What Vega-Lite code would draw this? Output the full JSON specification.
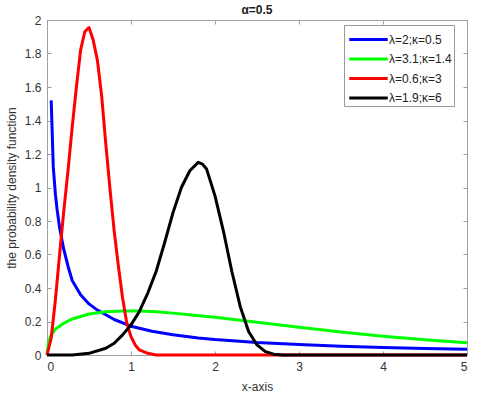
{
  "$schema": "https://vega.github.io/schema/vega-lite/v6.json",
  "autosize": {"type": "none"},
  "width": 420,
  "height": 335,
  "padding": {"left": 47, "top": 20, "right": 13, "bottom": 42},
  "background": "white",
  "config": {
    "font": "Liberation Sans",
    "view": {"stroke": "#a0a0a0", "strokeWidth": 1}
  },
  "title": {"text": "α=0.5", "fontSize": 12, "fontWeight": "bold", "color": "#222", "offset": -3, "anchor": "middle"},
  "data": {"values": [
    {"s": "λ=2;κ=0.5", "x": 0.05, "y": 1.52},
    {"s": "λ=2;κ=0.5", "x": 0.06, "y": 1.36},
    {"s": "λ=2;κ=0.5", "x": 0.075, "y": 1.12},
    {"s": "λ=2;κ=0.5", "x": 0.1, "y": 0.96},
    {"s": "λ=2;κ=0.5", "x": 0.12, "y": 0.87},
    {"s": "λ=2;κ=0.5", "x": 0.15, "y": 0.76},
    {"s": "λ=2;κ=0.5", "x": 0.2, "y": 0.63},
    {"s": "λ=2;κ=0.5", "x": 0.25, "y": 0.53},
    {"s": "λ=2;κ=0.5", "x": 0.3, "y": 0.445},
    {"s": "λ=2;κ=0.5", "x": 0.4, "y": 0.36},
    {"s": "λ=2;κ=0.5", "x": 0.5, "y": 0.305},
    {"s": "λ=2;κ=0.5", "x": 0.6, "y": 0.268},
    {"s": "λ=2;κ=0.5", "x": 0.7, "y": 0.24},
    {"s": "λ=2;κ=0.5", "x": 0.8, "y": 0.212},
    {"s": "λ=2;κ=0.5", "x": 1.0, "y": 0.172},
    {"s": "λ=2;κ=0.5", "x": 1.25, "y": 0.142},
    {"s": "λ=2;κ=0.5", "x": 1.5, "y": 0.121},
    {"s": "λ=2;κ=0.5", "x": 1.8, "y": 0.102},
    {"s": "λ=2;κ=0.5", "x": 2.0, "y": 0.092},
    {"s": "λ=2;κ=0.5", "x": 2.5, "y": 0.074},
    {"s": "λ=2;κ=0.5", "x": 3.0, "y": 0.062},
    {"s": "λ=2;κ=0.5", "x": 3.5, "y": 0.052},
    {"s": "λ=2;κ=0.5", "x": 4.0, "y": 0.045},
    {"s": "λ=2;κ=0.5", "x": 4.5, "y": 0.039},
    {"s": "λ=2;κ=0.5", "x": 5.0, "y": 0.034},
    {"s": "λ=3.1;κ=1.4", "x": 0.0, "y": 0.0},
    {"s": "λ=3.1;κ=1.4", "x": 0.02, "y": 0.08},
    {"s": "λ=3.1;κ=1.4", "x": 0.05, "y": 0.12},
    {"s": "λ=3.1;κ=1.4", "x": 0.1, "y": 0.155},
    {"s": "λ=3.1;κ=1.4", "x": 0.2, "y": 0.19},
    {"s": "λ=3.1;κ=1.4", "x": 0.3, "y": 0.215},
    {"s": "λ=3.1;κ=1.4", "x": 0.5, "y": 0.245},
    {"s": "λ=3.1;κ=1.4", "x": 0.7, "y": 0.258},
    {"s": "λ=3.1;κ=1.4", "x": 0.9, "y": 0.263},
    {"s": "λ=3.1;κ=1.4", "x": 1.1, "y": 0.263},
    {"s": "λ=3.1;κ=1.4", "x": 1.3, "y": 0.258},
    {"s": "λ=3.1;κ=1.4", "x": 1.5, "y": 0.25},
    {"s": "λ=3.1;κ=1.4", "x": 1.75, "y": 0.238},
    {"s": "λ=3.1;κ=1.4", "x": 2.0, "y": 0.225},
    {"s": "λ=3.1;κ=1.4", "x": 2.25, "y": 0.21},
    {"s": "λ=3.1;κ=1.4", "x": 2.5, "y": 0.196},
    {"s": "λ=3.1;κ=1.4", "x": 2.75, "y": 0.181},
    {"s": "λ=3.1;κ=1.4", "x": 3.0, "y": 0.166},
    {"s": "λ=3.1;κ=1.4", "x": 3.5, "y": 0.138},
    {"s": "λ=3.1;κ=1.4", "x": 4.0, "y": 0.112},
    {"s": "λ=3.1;κ=1.4", "x": 4.5, "y": 0.091},
    {"s": "λ=3.1;κ=1.4", "x": 5.0, "y": 0.073},
    {"s": "λ=0.6;κ=3", "x": 0.0, "y": 0.0},
    {"s": "λ=0.6;κ=3", "x": 0.05, "y": 0.1},
    {"s": "λ=0.6;κ=3", "x": 0.1, "y": 0.33},
    {"s": "λ=0.6;κ=3", "x": 0.15, "y": 0.6},
    {"s": "λ=0.6;κ=3", "x": 0.2, "y": 0.86},
    {"s": "λ=0.6;κ=3", "x": 0.25, "y": 1.1},
    {"s": "λ=0.6;κ=3", "x": 0.3, "y": 1.36},
    {"s": "λ=0.6;κ=3", "x": 0.35, "y": 1.6},
    {"s": "λ=0.6;κ=3", "x": 0.4, "y": 1.82},
    {"s": "λ=0.6;κ=3", "x": 0.45, "y": 1.93},
    {"s": "λ=0.6;κ=3", "x": 0.5, "y": 1.955},
    {"s": "λ=0.6;κ=3", "x": 0.55, "y": 1.88},
    {"s": "λ=0.6;κ=3", "x": 0.6, "y": 1.76},
    {"s": "λ=0.6;κ=3", "x": 0.65, "y": 1.55},
    {"s": "λ=0.6;κ=3", "x": 0.7, "y": 1.26},
    {"s": "λ=0.6;κ=3", "x": 0.75, "y": 0.99},
    {"s": "λ=0.6;κ=3", "x": 0.8, "y": 0.74},
    {"s": "λ=0.6;κ=3", "x": 0.85, "y": 0.53},
    {"s": "λ=0.6;κ=3", "x": 0.9, "y": 0.34},
    {"s": "λ=0.6;κ=3", "x": 0.95, "y": 0.19},
    {"s": "λ=0.6;κ=3", "x": 1.0, "y": 0.11},
    {"s": "λ=0.6;κ=3", "x": 1.05, "y": 0.06},
    {"s": "λ=0.6;κ=3", "x": 1.1, "y": 0.03},
    {"s": "λ=0.6;κ=3", "x": 1.2, "y": 0.01},
    {"s": "λ=0.6;κ=3", "x": 1.3, "y": 0.0},
    {"s": "λ=0.6;κ=3", "x": 2.0, "y": 0.0},
    {"s": "λ=0.6;κ=3", "x": 3.0, "y": 0.0},
    {"s": "λ=0.6;κ=3", "x": 4.0, "y": 0.0},
    {"s": "λ=0.6;κ=3", "x": 5.0, "y": 0.0},
    {"s": "λ=1.9;κ=6", "x": 0.0, "y": 0.0},
    {"s": "λ=1.9;κ=6", "x": 0.3, "y": 0.0},
    {"s": "λ=1.9;κ=6", "x": 0.5, "y": 0.01},
    {"s": "λ=1.9;κ=6", "x": 0.7, "y": 0.04},
    {"s": "λ=1.9;κ=6", "x": 0.8, "y": 0.07},
    {"s": "λ=1.9;κ=6", "x": 0.9, "y": 0.12},
    {"s": "λ=1.9;κ=6", "x": 1.0, "y": 0.18},
    {"s": "λ=1.9;κ=6", "x": 1.1, "y": 0.26},
    {"s": "λ=1.9;κ=6", "x": 1.2, "y": 0.37},
    {"s": "λ=1.9;κ=6", "x": 1.3, "y": 0.5},
    {"s": "λ=1.9;κ=6", "x": 1.4, "y": 0.67},
    {"s": "λ=1.9;κ=6", "x": 1.5, "y": 0.85},
    {"s": "λ=1.9;κ=6", "x": 1.6, "y": 1.0},
    {"s": "λ=1.9;κ=6", "x": 1.7, "y": 1.1},
    {"s": "λ=1.9;κ=6", "x": 1.8, "y": 1.15},
    {"s": "λ=1.9;κ=6", "x": 1.85, "y": 1.14},
    {"s": "λ=1.9;κ=6", "x": 1.9, "y": 1.11},
    {"s": "λ=1.9;κ=6", "x": 2.0, "y": 0.95},
    {"s": "λ=1.9;κ=6", "x": 2.1, "y": 0.74},
    {"s": "λ=1.9;κ=6", "x": 2.2, "y": 0.5},
    {"s": "λ=1.9;κ=6", "x": 2.3, "y": 0.29},
    {"s": "λ=1.9;κ=6", "x": 2.4, "y": 0.14},
    {"s": "λ=1.9;κ=6", "x": 2.5, "y": 0.06},
    {"s": "λ=1.9;κ=6", "x": 2.6, "y": 0.02},
    {"s": "λ=1.9;κ=6", "x": 2.7, "y": 0.005},
    {"s": "λ=1.9;κ=6", "x": 2.8, "y": 0.0},
    {"s": "λ=1.9;κ=6", "x": 3.0, "y": 0.0},
    {"s": "λ=1.9;κ=6", "x": 4.0, "y": 0.0},
    {"s": "λ=1.9;κ=6", "x": 5.0, "y": 0.0}
  ]},
  "resolve": {"axis": {"x": "independent", "y": "independent"}},
  "layer": [
    {
      "mark": {"type": "line", "opacity": 0},
      "encoding": {
        "x": {
          "field": "x", "type": "quantitative",
          "scale": {"domain": [0, 5], "nice": false, "zero": false},
          "axis": {"orient": "top", "title": null, "labels": false, "values": [0, 1, 2, 3, 4, 5], "grid": false, "domainColor": "#a0a0a0", "tickColor": "#a0a0a0", "tickSize": -4}
        },
        "y": {
          "field": "y", "type": "quantitative",
          "scale": {"domain": [0, 2], "nice": false},
          "axis": {"orient": "right", "title": null, "labels": false, "values": [0, 0.2, 0.4, 0.6, 0.8, 1, 1.2, 1.4, 1.6, 1.8, 2], "grid": false, "domainColor": "#a0a0a0", "tickColor": "#a0a0a0", "tickSize": -4}
        },
        "detail": {"field": "s", "type": "nominal"},
        "order": {"field": "x", "type": "quantitative"}
      }
    },
    {
      "mark": {"type": "line", "strokeWidth": 3, "strokeJoin": "round"},
      "encoding": {
        "x": {
          "field": "x", "type": "quantitative",
          "scale": {"domain": [0, 5], "nice": false, "zero": false},
          "axis": {"title": "x-axis", "values": [0, 1, 2, 3, 4, 5], "grid": false, "domainColor": "#a0a0a0", "tickColor": "#a0a0a0", "tickSize": -4, "labelPadding": 10, "labelFontSize": 12, "labelColor": "#333", "titleFontSize": 12, "titleFontWeight": "normal", "titleColor": "#333", "titlePadding": 9}
        },
        "y": {
          "field": "y", "type": "quantitative",
          "scale": {"domain": [0, 2], "nice": false},
          "axis": {"title": "the probability density function", "format": "~g", "values": [0, 0.2, 0.4, 0.6, 0.8, 1, 1.2, 1.4, 1.6, 1.8, 2], "grid": false, "domainColor": "#a0a0a0", "tickColor": "#a0a0a0", "tickSize": -4, "labelPadding": 10, "labelFontSize": 12, "labelColor": "#333", "titleFontSize": 12, "titleFontWeight": "normal", "titleColor": "#333", "titlePadding": 6}
        },
        "color": {
          "field": "s", "type": "nominal",
          "scale": {"domain": ["λ=2;κ=0.5", "λ=3.1;κ=1.4", "λ=0.6;κ=3", "λ=1.9;κ=6"], "range": ["#0000ff", "#00ff00", "#ff0000", "#000000"]},
          "legend": {"title": null, "orient": "none", "legendX": 297, "legendY": 5, "symbolType": "M-1.75,0H1.75", "symbolSize": 484, "symbolStrokeWidth": 3, "symbolOffset": 10, "labelFontSize": 12, "labelColor": "#222", "strokeColor": "#999", "fillColor": "white", "padding": 2, "rowPadding": 0.5, "labelOffset": 8}
        },
        "order": {"field": "x", "type": "quantitative"}
      }
    }
  ]
}
